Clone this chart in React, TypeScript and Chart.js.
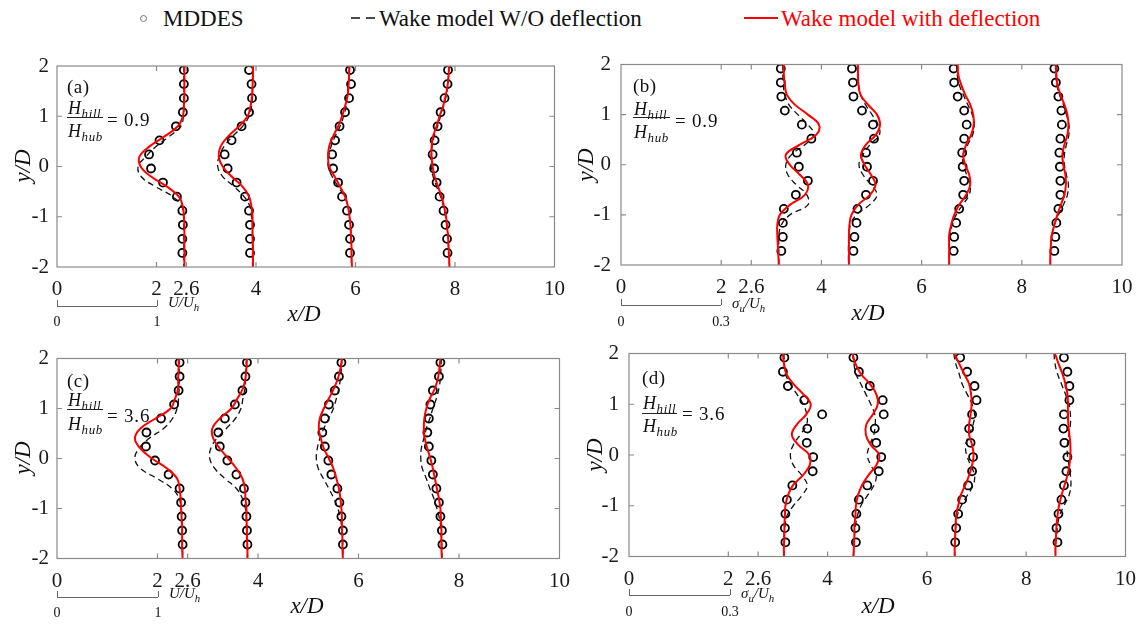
import React, { useEffect, useRef } from 'react';
import { Chart, registerables } from 'chart.js';
Chart.register(...registerables);

const SERIF = '"Liberation Serif", "Times New Roman", serif';

// y-levels of model curves and of MDDES samples (y/D)
const LINE_Y = [2, 1.8, 1.6, 1.4, 1.2, 1, 0.8, 0.6, 0.4, 0.2, 0, -0.2, -0.4, -0.6, -0.8, -1, -1.2, -1.4, -1.6, -1.8, -2];
const DOT_Y = [1.92, 1.64, 1.36, 1.08, 0.8, 0.52, 0.24, -0.04, -0.32, -0.6, -0.88, -1.16, -1.44, -1.72];
const X_TICKS = [0, 2, 2.6, 4, 6, 8, 10];
const Y_TICKS = [-2, -1, 0, 1, 2];
const X_MINOR_TICKS = [2, 2.6, 4, 6, 8];
const Y_MINOR_TICKS = [-1, 0, 1];

// ---- panel (a) ----
const a1Red = [2.56, 2.56, 2.56, 2.56, 2.55, 2.53, 2.43, 2.16, 1.86, 1.66, 1.68, 1.89, 2.21, 2.45, 2.53, 2.55, 2.56, 2.56, 2.56, 2.56, 2.56];
const a1Dash = [2.55, 2.55, 2.55, 2.55, 2.55, 2.54, 2.49, 2.26, 1.99, 1.79, 1.63, 1.69, 1.98, 2.33, 2.51, 2.55, 2.55, 2.55, 2.55, 2.55, 2.55];
const a1Dots = [2.55, 2.55, 2.55, 2.53, 2.39, 2.06, 1.85, 1.89, 2.13, 2.41, 2.52, 2.53, 2.52, 2.52];
const a2Red = [3.94, 3.94, 3.93, 3.92, 3.89, 3.83, 3.66, 3.44, 3.29, 3.25, 3.33, 3.51, 3.73, 3.86, 3.91, 3.93, 3.93, 3.93, 3.94, 3.94, 3.94];
const a2Dash = [3.93, 3.93, 3.93, 3.93, 3.91, 3.86, 3.73, 3.53, 3.36, 3.26, 3.23, 3.33, 3.56, 3.76, 3.88, 3.91, 3.93, 3.93, 3.93, 3.93, 3.93];
const a2Dots = [3.86, 3.91, 3.92, 3.86, 3.71, 3.51, 3.37, 3.43, 3.61, 3.78, 3.86, 3.88, 3.88, 3.88];
const a3Red = [5.88, 5.87, 5.86, 5.84, 5.79, 5.73, 5.65, 5.55, 5.47, 5.45, 5.47, 5.58, 5.69, 5.79, 5.85, 5.88, 5.9, 5.91, 5.92, 5.92, 5.93];
const a3Dash = [5.87, 5.87, 5.85, 5.83, 5.81, 5.76, 5.69, 5.59, 5.51, 5.46, 5.45, 5.53, 5.65, 5.78, 5.85, 5.88, 5.9, 5.91, 5.92, 5.92, 5.92];
const a3Dots = [5.89, 5.91, 5.87, 5.79, 5.68, 5.59, 5.53, 5.55, 5.65, 5.73, 5.83, 5.87, 5.89, 5.89];
const a4Red = [7.88, 7.87, 7.85, 7.81, 7.76, 7.69, 7.63, 7.56, 7.53, 7.53, 7.55, 7.59, 7.66, 7.73, 7.78, 7.82, 7.84, 7.86, 7.87, 7.88, 7.89];
const a4Dash = [7.88, 7.87, 7.85, 7.82, 7.77, 7.71, 7.65, 7.58, 7.54, 7.52, 7.52, 7.56, 7.63, 7.71, 7.77, 7.81, 7.84, 7.86, 7.87, 7.88, 7.89];
const a4Dots = [7.86, 7.85, 7.79, 7.71, 7.65, 7.59, 7.55, 7.58, 7.63, 7.69, 7.77, 7.81, 7.84, 7.85];

// ---- panel (b) ----
const b1Red = [3.25, 3.25, 3.27, 3.31, 3.47, 3.73, 3.95, 3.9, 3.57, 3.29, 3.37, 3.57, 3.73, 3.67, 3.37, 3.17, 3.12, 3.12, 3.13, 3.14, 3.15];
const b1Dash = [3.23, 3.23, 3.24, 3.27, 3.35, 3.53, 3.73, 3.85, 3.67, 3.4, 3.29, 3.33, 3.5, 3.71, 3.73, 3.37, 3.2, 3.15, 3.15, 3.15, 3.15];
const b1Dots = [3.19, 3.19, 3.2, 3.27, 3.61, 3.8, 3.51, 3.55, 3.73, 3.49, 3.25, 3.23, 3.23, 3.2];
const b2Red = [4.73, 4.73, 4.74, 4.78, 4.93, 5.11, 5.17, 5.09, 4.89, 4.79, 4.86, 4.99, 5.08, 4.97, 4.73, 4.6, 4.56, 4.55, 4.55, 4.55, 4.55];
const b2Dash = [4.72, 4.72, 4.74, 4.78, 4.88, 5.01, 5.13, 5.16, 4.97, 4.83, 4.75, 4.83, 4.99, 5.11, 4.96, 4.7, 4.58, 4.55, 4.54, 4.54, 4.54];
const b2Dots = [4.61, 4.63, 4.64, 4.81, 5.03, 5.05, 4.89, 4.91, 5.03, 4.89, 4.72, 4.7, 4.66, 4.64];
const b3Red = [6.72, 6.73, 6.79, 6.87, 6.97, 7.03, 7.04, 6.99, 6.89, 6.83, 6.87, 6.95, 6.97, 6.89, 6.75, 6.65, 6.59, 6.55, 6.55, 6.55, 6.55];
const b3Dash = [6.7, 6.71, 6.75, 6.83, 6.92, 7.01, 7.05, 7.02, 6.92, 6.83, 6.83, 6.9, 6.97, 6.95, 6.82, 6.69, 6.61, 6.57, 6.55, 6.55, 6.55];
const b3Dots = [6.64, 6.65, 6.72, 6.85, 6.9, 6.85, 6.81, 6.82, 6.85, 6.83, 6.75, 6.69, 6.65, 6.64];
const b4Red = [8.68, 8.69, 8.71, 8.77, 8.85, 8.91, 8.93, 8.91, 8.85, 8.81, 8.83, 8.87, 8.88, 8.85, 8.78, 8.71, 8.65, 8.6, 8.58, 8.57, 8.57];
const b4Dash = [8.67, 8.68, 8.7, 8.75, 8.83, 8.89, 8.94, 8.94, 8.89, 8.85, 8.85, 8.89, 8.93, 8.91, 8.83, 8.73, 8.65, 8.6, 8.58, 8.57, 8.57];
const b4Dots = [8.65, 8.68, 8.73, 8.79, 8.8, 8.77, 8.75, 8.76, 8.77, 8.77, 8.73, 8.69, 8.67, 8.65];

// ---- panel (c) ----
const c1Red = [2.42, 2.42, 2.41, 2.41, 2.35, 2.26, 1.96, 1.66, 1.55, 1.66, 1.89, 2.19, 2.39, 2.44, 2.46, 2.47, 2.48, 2.49, 2.49, 2.49, 2.5];
const c1Dash = [2.43, 2.43, 2.43, 2.43, 2.42, 2.39, 2.3, 2.12, 1.83, 1.63, 1.55, 1.66, 1.99, 2.29, 2.43, 2.47, 2.49, 2.49, 2.49, 2.5, 2.5];
const c1Dots = [2.44, 2.44, 2.42, 2.33, 2.07, 1.78, 1.77, 1.95, 2.22, 2.44, 2.47, 2.48, 2.49, 2.5];
const c2Red = [3.78, 3.77, 3.75, 3.7, 3.59, 3.47, 3.24, 3.09, 3.11, 3.24, 3.41, 3.57, 3.69, 3.74, 3.75, 3.77, 3.77, 3.78, 3.78, 3.79, 3.79];
const c2Dash = [3.77, 3.76, 3.75, 3.74, 3.7, 3.66, 3.55, 3.37, 3.18, 3.06, 3.04, 3.14, 3.34, 3.57, 3.69, 3.75, 3.77, 3.77, 3.78, 3.79, 3.79];
const c2Dots = [3.78, 3.75, 3.69, 3.54, 3.34, 3.21, 3.24, 3.39, 3.57, 3.72, 3.75, 3.77, 3.78, 3.79];
const c3Red = [5.67, 5.64, 5.59, 5.51, 5.41, 5.31, 5.23, 5.21, 5.25, 5.31, 5.41, 5.5, 5.56, 5.61, 5.64, 5.66, 5.67, 5.67, 5.68, 5.68, 5.69];
const c3Dash = [5.67, 5.66, 5.64, 5.61, 5.56, 5.5, 5.41, 5.31, 5.23, 5.18, 5.16, 5.2, 5.3, 5.41, 5.51, 5.59, 5.64, 5.67, 5.68, 5.69, 5.69];
const c3Dots = [5.66, 5.61, 5.53, 5.41, 5.33, 5.28, 5.33, 5.4, 5.46, 5.58, 5.62, 5.66, 5.69, 5.69];
const c4Red = [7.63, 7.61, 7.58, 7.52, 7.42, 7.35, 7.31, 7.3, 7.32, 7.37, 7.43, 7.48, 7.52, 7.56, 7.6, 7.63, 7.64, 7.65, 7.65, 7.65, 7.66];
const c4Dash = [7.65, 7.64, 7.63, 7.6, 7.55, 7.48, 7.42, 7.35, 7.3, 7.25, 7.24, 7.27, 7.35, 7.42, 7.5, 7.56, 7.61, 7.64, 7.65, 7.66, 7.66];
const c4Dots = [7.63, 7.6, 7.48, 7.43, 7.4, 7.37, 7.4, 7.45, 7.48, 7.55, 7.6, 7.63, 7.66, 7.67];

// ---- panel (d) ----
const d1Red = [3.1, 3.12, 3.17, 3.31, 3.51, 3.66, 3.57, 3.38, 3.28, 3.41, 3.63, 3.64, 3.5, 3.3, 3.2, 3.15, 3.14, 3.13, 3.13, 3.12, 3.12];
const d1Dash = [3.12, 3.13, 3.15, 3.25, 3.38, 3.51, 3.58, 3.58, 3.45, 3.31, 3.25, 3.31, 3.48, 3.59, 3.48, 3.31, 3.18, 3.14, 3.12, 3.12, 3.12];
const d1Dots = [3.13, 3.1, 3.2, 3.53, 3.89, 3.59, 3.58, 3.71, 3.7, 3.29, 3.18, 3.15, 3.14, 3.15];
const d2Red = [4.5, 4.56, 4.67, 4.85, 4.98, 5.01, 4.91, 4.78, 4.77, 4.87, 5.04, 4.98, 4.82, 4.69, 4.61, 4.57, 4.56, 4.54, 4.54, 4.53, 4.52];
const d2Dash = [4.5, 4.53, 4.57, 4.67, 4.77, 4.87, 4.95, 4.96, 4.93, 4.85, 4.8, 4.87, 4.98, 4.93, 4.8, 4.67, 4.6, 4.56, 4.54, 4.53, 4.52];
const d2Dots = [4.52, 4.63, 4.85, 5.11, 5.13, 4.95, 4.98, 5.08, 5.03, 4.8, 4.63, 4.58, 4.56, 4.57];
const d3Red = [6.55, 6.65, 6.75, 6.85, 6.89, 6.9, 6.88, 6.85, 6.85, 6.91, 6.94, 6.91, 6.85, 6.77, 6.68, 6.63, 6.59, 6.58, 6.57, 6.56, 6.56];
const d3Dash = [6.54, 6.58, 6.65, 6.71, 6.81, 6.91, 6.96, 6.93, 6.85, 6.78, 6.8, 6.88, 6.96, 6.93, 6.81, 6.69, 6.61, 6.58, 6.57, 6.56, 6.56];
const d3Dots = [6.67, 6.81, 6.96, 7.0, 6.91, 6.85, 6.88, 6.93, 6.91, 6.83, 6.71, 6.63, 6.59, 6.57];
const d4Red = [8.58, 8.65, 8.73, 8.79, 8.83, 8.84, 8.84, 8.85, 8.87, 8.89, 8.89, 8.87, 8.83, 8.77, 8.71, 8.66, 8.63, 8.61, 8.6, 8.59, 8.59];
const d4Dash = [8.56, 8.58, 8.63, 8.71, 8.79, 8.86, 8.89, 8.89, 8.86, 8.83, 8.83, 8.86, 8.89, 8.9, 8.86, 8.76, 8.67, 8.63, 8.61, 8.59, 8.59];
const d4Dots = [8.76, 8.83, 8.87, 8.87, 8.76, 8.75, 8.77, 8.83, 8.81, 8.76, 8.71, 8.65, 8.61, 8.63];

type Profile = { red: number[]; dash: number[]; dots: number[] };
type PanelCfg = {
  id: string; left: number; top: number; w: number; h: number;
  padTop: number; padRight: number; yAxisW: number; xAxisH: number; yPad: number;
  profiles: Profile[];
};

const PANELS: PanelCfg[] = [
  { id: 'a', left: 0, top: 40, w: 575, h: 290, padTop: 26, padRight: 18, yAxisW: 57, xAxisH: 63, yPad: 8,
    profiles: [{ red: a1Red, dash: a1Dash, dots: a1Dots }, { red: a2Red, dash: a2Dash, dots: a2Dots }, { red: a3Red, dash: a3Dash, dots: a3Dots }, { red: a4Red, dash: a4Dash, dots: a4Dots }] },
  { id: 'b', left: 573, top: 40, w: 573, h: 290, padTop: 24.5, padRight: 24, yAxisW: 48, xAxisH: 65, yPad: 10,
    profiles: [{ red: b1Red, dash: b1Dash, dots: b1Dots }, { red: b2Red, dash: b2Dash, dots: b2Dots }, { red: b3Red, dash: b3Dash, dots: b3Dots }, { red: b4Red, dash: b4Dash, dots: b4Dots }] },
  { id: 'c', left: 0, top: 330, w: 580, h: 294, padTop: 28.5, padRight: 16, yAxisW: 57, xAxisH: 65.5, yPad: 8,
    profiles: [{ red: c1Red, dash: c1Dash, dots: c1Dots }, { red: c2Red, dash: c2Dash, dots: c2Dots }, { red: c3Red, dash: c3Dash, dots: c3Dots }, { red: c4Red, dash: c4Dash, dots: c4Dots }] },
  { id: 'd', left: 580, top: 330, w: 566, h: 294, padTop: 23.5, padRight: 12, yAxisW: 49, xAxisH: 67.5, yPad: 10,
    profiles: [{ red: d1Red, dash: d1Dash, dots: d1Dots }, { red: d2Red, dash: d2Dash, dots: d2Dots }, { red: d3Red, dash: d3Dash, dots: d3Dots }, { red: d4Red, dash: d4Dash, dots: d4Dots }] },
];

const framePlugin = {
  id: 'frame',
  afterDatasetsDraw(chart: any) {
    const { ctx, chartArea, scales } = chart;
    const { left, right, top, bottom } = chartArea;
    const x = scales.x, y = scales.y;
    const L = 5;
    ctx.save();
    ctx.strokeStyle = '#8a8a8a';
    ctx.lineWidth = 1.2;
    ctx.beginPath();
    X_MINOR_TICKS.forEach((v) => {
      const px = x.getPixelForValue(v);
      ctx.moveTo(px, bottom); ctx.lineTo(px, bottom - L);
      ctx.moveTo(px, top); ctx.lineTo(px, top + L);
    });
    Y_MINOR_TICKS.forEach((v) => {
      const py = y.getPixelForValue(v);
      ctx.moveTo(left, py); ctx.lineTo(left + L, py);
      ctx.moveTo(right, py); ctx.lineTo(right - L, py);
    });
    ctx.stroke();
    ctx.strokeRect(left, top, right - left, bottom - top);
    ctx.restore();
  },
};

function Panel({ cfg }: { cfg: PanelCfg }) {
  const ref = useRef<HTMLCanvasElement>(null);
  useEffect(() => {
    const pts = (xs: number[], ys: number[]) => xs.map((v, i) => ({ x: v, y: ys[i] }));
    const datasets: any[] = [];
    cfg.profiles.forEach((p) => {
      datasets.push({ data: pts(p.red, LINE_Y), showLine: true, borderColor: '#ff0000', borderWidth: 2, pointRadius: 0, tension: 0.4, fill: false, order: 1 });
      datasets.push({ data: pts(p.dash, LINE_Y), showLine: true, borderColor: '#111', borderWidth: 1.3, borderDash: [6, 4], pointRadius: 0, tension: 0.4, fill: false, order: 2 });
      datasets.push({ data: pts(p.dots, DOT_Y), showLine: false, pointRadius: 4, pointBorderWidth: 1.8, pointBorderColor: '#000', pointBackgroundColor: 'rgba(0,0,0,0)', order: 3 });
    });
    const tickFont = { family: SERIF, size: 21 };
    const chart = new Chart(ref.current as HTMLCanvasElement, {
      type: 'scatter',
      data: { datasets },
      options: {
        animation: false,
        responsive: false,
        maintainAspectRatio: false,
        events: [],
        layout: { padding: { top: cfg.padTop, right: cfg.padRight, left: 0, bottom: 0 } },
        plugins: { legend: { display: false }, tooltip: { enabled: false } },
        scales: {
          x: {
            type: 'linear', min: 0, max: 10,
            afterBuildTicks: (s: any) => { s.ticks = X_TICKS.map((v) => ({ value: v })); },
            afterFit: (s: any) => { s.height = cfg.xAxisH; },
            grid: { display: false, drawTicks: false },
            border: { display: false },
            ticks: { padding: 10, font: tickFont, color: '#1a1a1a', autoSkip: false, maxRotation: 0, callback: (v: any) => String(v) },
          },
          y: {
            type: 'linear', min: -2, max: 2,
            afterBuildTicks: (s: any) => { s.ticks = Y_TICKS.map((v) => ({ value: v })); },
            afterFit: (s: any) => { s.width = cfg.yAxisW; },
            grid: { display: false, drawTicks: false },
            border: { display: false },
            ticks: { padding: cfg.yPad, font: tickFont, color: '#1a1a1a', autoSkip: false, callback: (v: any) => String(v) },
          },
        },
      } as any,
      plugins: [framePlugin],
    });
    return () => chart.destroy();
  }, [cfg]);
  return (
    <canvas ref={ref} width={cfg.w} height={cfg.h}
      style={{ position: 'absolute', left: cfg.left, top: cfg.top, width: cfg.w, height: cfg.h }} />
  );
}

function Txt(props: { x: number; y: number; size: number; children: any; italic?: boolean; color?: string; align?: 'left' | 'center' | 'right'; rotate?: number }) {
  const { x, y, size, children, italic, color = '#111', align = 'left', rotate } = props;
  const tx = align === 'center' ? '-50%' : align === 'right' ? '-100%' : '0';
  return (
    <div style={{
      position: 'absolute', left: x, top: y, fontSize: size, lineHeight: 1, whiteSpace: 'nowrap',
      fontStyle: italic ? 'italic' : 'normal', color, fontFamily: SERIF,
      transform: `translate(${tx}, -50%)` + (rotate ? ` rotate(${rotate}deg)` : ''),
    }}>{children}</div>
  );
}

// text positioned by its baseline (Liberation Serif: baseline ~0.8375em below top of a 1em line box)
function BTxt(props: { x: number; base: number; size: number; children: any; italic?: boolean; spacing?: number }) {
  const { x, base, size, children, italic, spacing = 0 } = props;
  return (
    <div style={{
      position: 'absolute', left: x, top: base - 0.8375 * size, fontSize: size, lineHeight: `${size}px`, height: size,
      whiteSpace: 'nowrap', fontStyle: italic ? 'italic' : 'normal', color: '#111', fontFamily: SERIF, letterSpacing: spacing,
    }}>{children}</div>
  );
}

const Sub = ({ children }: { children: any }) => (
  <span style={{ fontSize: '0.72em', verticalAlign: '-0.32em' }}>{children}</span>
);

function HLine({ x1, x2, y, color = '#666', w = 1 }: { x1: number; x2: number; y: number; color?: string; w?: number }) {
  return <div style={{ position: 'absolute', left: x1, top: y - w / 2, width: x2 - x1, height: w, background: color }} />;
}
function VLine({ x, y1, y2, color = '#666', w = 1 }: { x: number; y1: number; y2: number; color?: string; w?: number }) {
  return <div style={{ position: 'absolute', left: x - w / 2, top: y1, width: w, height: y2 - y1, background: color }} />;
}

function PanelLabel({ x, labelBase, letter, barY, barW, numBase, denBase, eqX, eqBase, value }: {
  x: number; labelBase: number; letter: string; barY: number; barW: number; numBase: number; denBase: number; eqX: number; eqBase: number; value: string;
}) {
  return (
    <>
      <BTxt x={x} base={labelBase} size={19} spacing={0.5}>{`(${letter})`}</BTxt>
      <BTxt x={x + 1} base={numBase} size={18} italic spacing={0.6}>H<Sub>hill</Sub></BTxt>
      <HLine x1={x} x2={x + barW} y={barY} color="#222" w={1.3} />
      <BTxt x={x + 1} base={denBase} size={18} italic spacing={0.6}>H<Sub>hub</Sub></BTxt>
      <BTxt x={eqX} base={eqBase} size={19} spacing={0.8}>{'= ' + value}</BTxt>
    </>
  );
}

function ScaleBar({ x1, x2, y, endLabel, unit, labelY, unitY }: { x1: number; x2: number; y: number; endLabel: string; unit: any; labelY: number; unitY: number }) {
  return (
    <>
      <HLine x1={x1} x2={x2} y={y} />
      <VLine x={x1} y1={y - 6} y2={y} />
      <VLine x={x2} y1={y - 6} y2={y} />
      <Txt x={x1} y={labelY} size={14} align="center">0</Txt>
      <Txt x={x2} y={labelY} size={14} align="center">{endLabel}</Txt>
      <Txt x={x2 + 11} y={unitY} size={15} italic>{unit}</Txt>
    </>
  );
}

export default function App() {
  return (
    <div style={{ position: 'fixed', left: 0, top: 0, width: 1146, height: 624, background: '#fff', overflow: 'hidden', fontFamily: SERIF }}>
      {/* legend */}
      <div style={{ position: 'absolute', left: 139.5, top: 14.5, width: 7, height: 7, borderRadius: '50%', border: '1px solid #777', boxSizing: 'border-box' }} />
      <Txt x={163} y={18} size={23}>MDDES</Txt>
      <svg style={{ position: 'absolute', left: 351, top: 16 }} width={26} height={4}>
        <line x1={0} y1={2} x2={26} y2={2} stroke="#111" strokeWidth={1.6} strokeDasharray="9 6" />
      </svg>
      <Txt x={379} y={18} size={23}>Wake model W/O deflection</Txt>
      <HLine x1={744} x2={778} y={18} color="#ff0000" w={2} />
      <Txt x={781} y={18} size={23} color="#ff0000">Wake model with deflection</Txt>

      {PANELS.map((p) => <Panel key={p.id} cfg={p} />)}

      {/* panel a annotations */}
      <PanelLabel x={67} letter="a" labelBase={93} numBase={114} barY={117.3} barW={36} denBase={137} eqX={107} eqBase={125.5} value="0.9" />
      <Txt x={22} y={166} size={23} italic align="center" rotate={-90}>y/D</Txt>
      <Txt x={304} y={313} size={23} italic align="center">x/D</Txt>
      <ScaleBar x1={57} x2={157} y={306} labelY={322} unitY={304} endLabel="1" unit={<span>U/U<Sub>h</Sub></span>} />

      {/* panel b annotations */}
      <PanelLabel x={633} letter="b" labelBase={92} numBase={115} barY={117.7} barW={37} denBase={138} eqX={675} eqBase={126.5} value="0.9" />
      <Txt x={585} y={165} size={23} italic align="center" rotate={-90}>y/D</Txt>
      <Txt x={868} y={312} size={23} italic align="center">x/D</Txt>
      <ScaleBar x1={621} x2={721} y={305} labelY={322} unitY={305} endLabel="0.3" unit={<span>σ<Sub>u</Sub>/U<Sub>h</Sub></span>} />

      {/* panel c annotations */}
      <PanelLabel x={67} letter="c" labelBase={387} numBase={406} barY={409.3} barW={36} denBase={430} eqX={107} eqBase={421.5} value="3.6" />
      <Txt x={22} y={458} size={23} italic align="center" rotate={-90}>y/D</Txt>
      <Txt x={307} y={605} size={23} italic align="center">x/D</Txt>
      <ScaleBar x1={57} x2={158} y={597} labelY={613} unitY={595} endLabel="1" unit={<span>U/U<Sub>h</Sub></span>} />

      {/* panel d annotations */}
      <PanelLabel x={642} letter="d" labelBase={384} numBase={409} barY={413.3} barW={35} denBase={432} eqX={682} eqBase={420} value="3.6" />
      <Txt x={594} y={455} size={23} italic align="center" rotate={-90}>y/D</Txt>
      <Txt x={878} y={605} size={23} italic align="center">x/D</Txt>
      <ScaleBar x1={629} x2={730} y={595} labelY={612} unitY={595} endLabel="0.3" unit={<span>σ<Sub>u</Sub>/U<Sub>h</Sub></span>} />
    </div>
  );
}
